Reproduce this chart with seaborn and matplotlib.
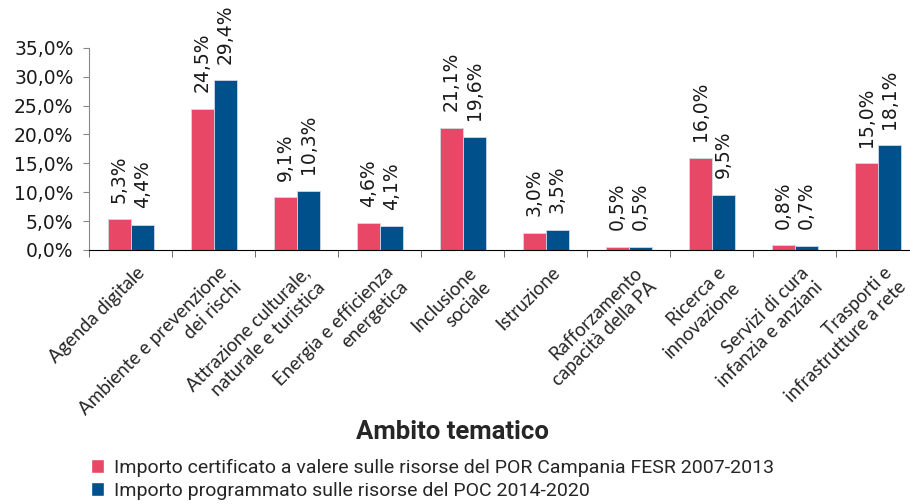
import numpy as np
import pandas as pd
import matplotlib
matplotlib.use("Agg")
import matplotlib.pyplot as plt
import matplotlib.transforms as mtransforms
import seaborn as sns
from matplotlib.ticker import FuncFormatter

categories = [
    "Agenda digitale",
    "Ambiente e prevenzione\ndei rischi",
    "Attrazione culturale,\nnaturale e turistica",
    "Energia e efficienza\nenergetica",
    "Inclusione\nsociale",
    "Istruzione",
    "Rafforzamento\ncapacità della PA",
    "Ricerca e\ninnovazione",
    "Servizi di cura\ninfanzia e anziani",
    "Trasporti e\ninfrastrutture a rete",
]
por_2007_2013 = [5.3, 24.5, 9.1, 4.6, 21.1, 3.0, 0.5, 16.0, 0.8, 15.0]
poc_2014_2020 = [4.4, 29.4, 10.3, 4.1, 19.6, 3.5, 0.5, 9.5, 0.7, 18.1]
series_names = [
    "Importo certificato a valere sulle risorse del POR Campania FESR 2007-2013",
    "Importo programmato sulle risorse del POC 2014-2020",
]
y_ticks = [0, 5, 10, 15, 20, 25, 30, 35]

df = pd.DataFrame({
    "Ambito": categories * 2,
    "Serie": [series_names[0]] * len(categories) + [series_names[1]] * len(categories),
    "Valore": por_2007_2013 + poc_2014_2020,
})

sns.set_style("ticks")
plt.rcParams["font.family"] = ["DejaVu Sans"]


def pct(v):
    return f"{v:.1f}%".replace(".", ",")


fig = plt.figure(figsize=(9.1, 5.04), dpi=100)
# the plot area runs a little past the right edge, as in the original
ax = fig.add_axes([0.098, 0.504, 0.912, 0.401])

palette = ["#E84865", "#00508C"]
sns.barplot(data=df, x="Ambito", y="Valore", hue="Serie", palette=palette,
            width=0.555, saturation=1, ax=ax, legend=True)

for cont in ax.containers:
    for bar in cont:
        bar.set_edgecolor("#cfd8e6")
        bar.set_linewidth(0.6)
    ax.bar_label(cont, labels=[pct(v) for v in cont.datavalues], rotation=90,
                 padding=12, fontsize=13.5, color="#1a1a1a", family="DejaVu Sans")

ax.set_ylim(0, 35)
ax.set_xlim(-0.5, len(categories) - 0.5)
ax.set_yticks(y_ticks)
ax.yaxis.set_major_formatter(FuncFormatter(lambda v, p: pct(v)))
ax.tick_params(axis="y", labelsize=13.5, colors="#1a1a1a", length=4.3, color="#888888", pad=7)
for t in ax.get_yticklabels():
    t.set_family("DejaVu Sans")
ax.spines["left"].set_color("#888888")
ax.spines["top"].set_visible(False)
ax.spines["right"].set_visible(False)
ax.spines["bottom"].set_color("black")

ax.set_xticks(np.arange(len(categories)))
ax.set_xticklabels(categories, rotation=45, ha="right", rotation_mode="anchor",
                   fontsize=13.5, multialignment="right", family="Lato", linespacing=1.25)
ax.tick_params(axis="x", length=0, pad=10)
shift = mtransforms.ScaledTranslation(5 / 100, 0, fig.dpi_scale_trans)
for t in ax.get_xticklabels():
    t.set_transform(t.get_transform() + shift)
ax.set_xticks(np.arange(len(categories) + 1) - 0.5, minor=True)
ax.tick_params(axis="x", which="minor", length=5, color="#555555")
ax.set_xlabel("")
ax.set_ylabel("")

handles, labels = ax.get_legend_handles_labels()
ax.get_legend().remove()
fig.legend(handles, labels, loc="upper left", bbox_to_anchor=(0.091, 0.105),
           frameon=False, handlelength=0.7, handleheight=0.7,
           handletextpad=0.5, labelspacing=0.25, borderaxespad=0,
           prop={"family": "Roboto", "size": 14})

fig.text(0.497, 0.142, "Ambito tematico", ha="center", va="center",
         fontsize=18.5, fontweight="bold", family="Roboto")

fig.savefig("out.png", dpi=100)
